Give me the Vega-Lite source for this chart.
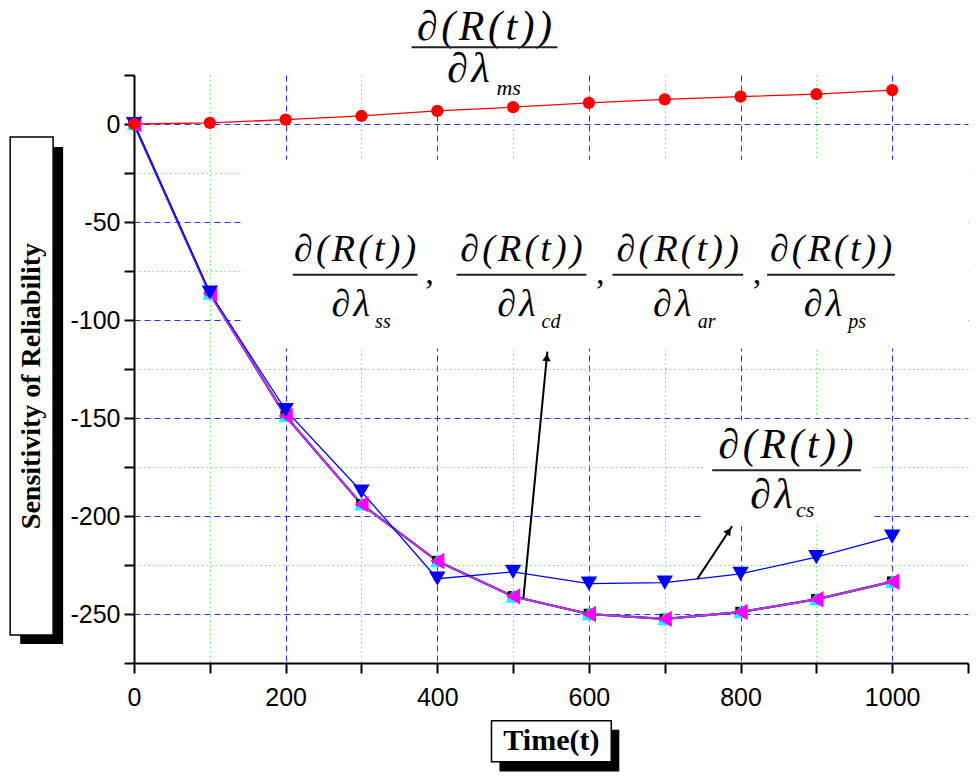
{
  "$schema": "https://vega.github.io/schema/vega-lite/v6.json",
  "width": 834,
  "height": 588,
  "autosize": {"type": "none"},
  "padding": {"left": 134, "top": 75, "right": 10, "bottom": 120},
  "background": "white",
  "datasets": {
    "sens": [
      {"s": "ss", "t": 0, "v": 0}, {"s": "ss", "t": 100, "v": -86.5}, {"s": "ss", "t": 200, "v": -149}, {"s": "ss", "t": 300, "v": -194}, {"s": "ss", "t": 400, "v": -223}, {"s": "ss", "t": 500, "v": -241}, {"s": "ss", "t": 600, "v": -250}, {"s": "ss", "t": 700, "v": -252.5}, {"s": "ss", "t": 800, "v": -249}, {"s": "ss", "t": 900, "v": -242.5}, {"s": "ss", "t": 1000, "v": -233.5},
      {"s": "cd", "t": 0, "v": 0}, {"s": "cd", "t": 100, "v": -86.5}, {"s": "cd", "t": 200, "v": -149}, {"s": "cd", "t": 300, "v": -194}, {"s": "cd", "t": 400, "v": -223}, {"s": "cd", "t": 500, "v": -241}, {"s": "cd", "t": 600, "v": -250}, {"s": "cd", "t": 700, "v": -252.5}, {"s": "cd", "t": 800, "v": -249}, {"s": "cd", "t": 900, "v": -242.5}, {"s": "cd", "t": 1000, "v": -233.5},
      {"s": "ar", "t": 0, "v": 0}, {"s": "ar", "t": 100, "v": -86.5}, {"s": "ar", "t": 200, "v": -149}, {"s": "ar", "t": 300, "v": -194}, {"s": "ar", "t": 400, "v": -223}, {"s": "ar", "t": 500, "v": -241}, {"s": "ar", "t": 600, "v": -250}, {"s": "ar", "t": 700, "v": -252.5}, {"s": "ar", "t": 800, "v": -249}, {"s": "ar", "t": 900, "v": -242.5}, {"s": "ar", "t": 1000, "v": -233.5},
      {"s": "ps", "t": 0, "v": 0}, {"s": "ps", "t": 100, "v": -86.5}, {"s": "ps", "t": 200, "v": -149}, {"s": "ps", "t": 300, "v": -194}, {"s": "ps", "t": 400, "v": -223}, {"s": "ps", "t": 500, "v": -241}, {"s": "ps", "t": 600, "v": -250}, {"s": "ps", "t": 700, "v": -252.5}, {"s": "ps", "t": 800, "v": -249}, {"s": "ps", "t": 900, "v": -242.5}, {"s": "ps", "t": 1000, "v": -233.5},
      {"s": "cs", "t": 0, "v": 0}, {"s": "cs", "t": 100, "v": -86}, {"s": "cs", "t": 200, "v": -146}, {"s": "cs", "t": 300, "v": -187.5}, {"s": "cs", "t": 400, "v": -232}, {"s": "cs", "t": 500, "v": -228.5}, {"s": "cs", "t": 600, "v": -234.5}, {"s": "cs", "t": 700, "v": -234}, {"s": "cs", "t": 800, "v": -229.5}, {"s": "cs", "t": 900, "v": -221}, {"s": "cs", "t": 1000, "v": -210.5},
      {"s": "ms", "t": 0, "v": 0}, {"s": "ms", "t": 100, "v": 0.6}, {"s": "ms", "t": 200, "v": 2.2}, {"s": "ms", "t": 300, "v": 4.1}, {"s": "ms", "t": 400, "v": 6.7}, {"s": "ms", "t": 500, "v": 8.6}, {"s": "ms", "t": 600, "v": 10.8}, {"s": "ms", "t": 700, "v": 12.6}, {"s": "ms", "t": 800, "v": 14}, {"s": "ms", "t": 900, "v": 15.2}, {"s": "ms", "t": 1000, "v": 17.3}
    ]
  },
  "config": {
    "view": {"stroke": null},
    "axis": {
      "domainColor": "black",
      "domainWidth": 2,
      "tickColor": "black",
      "tickWidth": 2,
      "tickSize": 10,
      "labelFont": "Liberation Sans",
      "labelFontSize": 25,
      "labelColor": "black",
      "gridWidth": 1
    },
    "text": {"font": "Liberation Serif", "color": "black"}
  },
  "layer": [
    {
      "data": {"values": [{}]},
      "mark": {"type": "rect", "fill": "white"},
      "encoding": {
        "x": {
          "datum": 143.6, "type": "quantitative",
          "scale": {"domain": [0, 1100], "nice": false, "zero": false},
          "axis": {
            "title": null,
            "values": [0, 100, 200, 300, 400, 500, 600, 700, 800, 900, 1000, 1100],
            "labelExpr": "datum.value % 200 === 0 && datum.value <= 1000 ? '' + datum.value : ''",
            "labelAngle": 0,
            "labelPadding": 12,
            "labelFlush": false,
            "labelOverlap": false,
            "grid": true,
            "gridColor": {"condition": {"test": "datum.value % 200 === 0", "value": "#2a2aff"}, "value": "#66ee66"},
            "gridDash": {"condition": {"test": "datum.value % 200 === 0", "value": [6, 4]}, "value": [1.5, 3]},
            "gridOpacity": {"condition": {"test": "datum.value >= 1100", "value": 0}, "value": 1}
          }
        },
        "x2": {"datum": 1100},
        "y": {
          "datum": -18.3, "type": "quantitative",
          "scale": {"domain": [-275, 25], "nice": false, "zero": false},
          "axis": {
            "title": null,
            "values": [-275, -250, -225, -200, -175, -150, -125, -100, -75, -50, -25, 0, 25],
            "labelExpr": "datum.value % 50 === 0 ? '' + datum.value : ''",
            "labelPadding": 4,
            "labelOverlap": false,
            "grid": true,
            "gridColor": {"condition": {"test": "datum.value % 50 === 0", "value": "#2a2aff"}, "value": "#66ee66"},
            "gridDash": {"condition": {"test": "datum.value % 50 === 0", "value": [6, 4]}, "value": [1.5, 3]},
            "gridOpacity": {"condition": {"test": "datum.value >= 25 || datum.value <= -275", "value": 0}, "value": 1}
          }
        },
        "y2": {"datum": -114.6}
      }
    },
    {
      "data": {"values": [{}]},
      "mark": {"type": "rect", "fill": "white"},
      "encoding": {
        "x": {"datum": 356.9, "type": "quantitative"},
        "x2": {"datum": 567.6},
        "y": {"datum": 11.2, "type": "quantitative"},
        "y2": {"datum": 25}
      }
    },
    {
      "data": {"values": [{}]},
      "mark": {"type": "rect", "fill": "white"},
      "encoding": {
        "x": {"datum": 752, "type": "quantitative"},
        "x2": {"datum": 973.3},
        "y": {"datum": -151.2, "type": "quantitative"},
        "y2": {"datum": -205.2}
      }
    },
    {
      "data": {"name": "sens"},
      "transform": [{"filter": "datum.s === 'ss'"}],
      "mark": {"type": "line", "color": "black", "strokeWidth": 2},
      "encoding": {"x": {"field": "t", "type": "quantitative"}, "y": {"field": "v", "type": "quantitative"}}
    },
    {
      "data": {"name": "sens"},
      "transform": [{"filter": "datum.s === 'cd'"}],
      "mark": {"type": "line", "color": "#00cc00", "strokeWidth": 2},
      "encoding": {"x": {"field": "t", "type": "quantitative"}, "y": {"field": "v", "type": "quantitative"}}
    },
    {
      "data": {"name": "sens"},
      "transform": [{"filter": "datum.s === 'ar'"}],
      "mark": {"type": "line", "color": "#3333ff", "strokeWidth": 2.2},
      "encoding": {"x": {"field": "t", "type": "quantitative"}, "y": {"field": "v", "type": "quantitative"}}
    },
    {
      "data": {"name": "sens"},
      "transform": [{"filter": "datum.s === 'ps'"}],
      "mark": {"type": "line", "color": "#ee22ee", "strokeWidth": 1.5},
      "encoding": {"x": {"field": "t", "type": "quantitative"}, "y": {"field": "v", "type": "quantitative"}}
    },
    {
      "data": {"name": "sens"},
      "transform": [{"filter": "datum.s === 'cs'"}],
      "mark": {"type": "line", "color": "#0000ff", "strokeWidth": 1.3},
      "encoding": {"x": {"field": "t", "type": "quantitative"}, "y": {"field": "v", "type": "quantitative"}}
    },
    {
      "data": {"name": "sens"},
      "transform": [{"filter": "datum.s === 'ms'"}],
      "mark": {"type": "line", "color": "#ff0000", "strokeWidth": 1.3},
      "encoding": {"x": {"field": "t", "type": "quantitative"}, "y": {"field": "v", "type": "quantitative"}}
    },
    {
      "data": {"name": "sens"},
      "mark": {"type": "point", "filled": true, "opacity": 1},
      "encoding": {
        "x": {"field": "t", "type": "quantitative"},
        "y": {"field": "v", "type": "quantitative"},
        "color": {
          "field": "s", "type": "nominal", "legend": null,
          "scale": {"domain": ["ss", "cd", "ar", "ps", "cs", "ms"], "range": ["#000000", "#00cc00", "#00ffff", "#ff00ff", "#0000ff", "#ff0000"]}
        },
        "shape": {
          "field": "s", "type": "nominal", "legend": null,
          "scale": {"domain": ["ss", "cd", "ar", "ps", "cs", "ms"], "range": ["square", "diamond", "triangle-up", "triangle-left", "triangle-down", "circle"]}
        },
        "size": {
          "field": "s", "type": "ordinal", "legend": null,
          "scale": {"type": "ordinal", "domain": ["ss", "cd", "ar", "ps", "cs", "ms"], "range": [110, 140, 210, 270, 270, 150]}
        }
      }
    },
    {
      "data": {"values": [{}]},
      "mark": {"type": "rule", "color": "black", "strokeWidth": 2},
      "encoding": {
        "x": {"datum": 513.6, "type": "quantitative"}, "y": {"datum": -241.9, "type": "quantitative"},
        "x2": {"datum": 545.2}, "y2": {"datum": -116.1}
      }
    },
    {
      "data": {"values": [{}]},
      "mark": {"type": "point", "shape": "triangle-up", "angle": 5.5, "filled": true, "color": "black", "opacity": 1, "size": 70},
      "encoding": {"x": {"datum": 544.5, "type": "quantitative"}, "y": {"datum": -119.1, "type": "quantitative"}}
    },
    {
      "data": {"values": [{}]},
      "mark": {"type": "rule", "color": "black", "strokeWidth": 2},
      "encoding": {
        "x": {"datum": 742.8, "type": "quantitative"}, "y": {"datum": -232.2, "type": "quantitative"},
        "x2": {"datum": 788.9}, "y2": {"datum": -205.2}
      }
    },
    {
      "data": {"values": [{}]},
      "mark": {"type": "point", "shape": "triangle-up", "angle": 33.4, "filled": true, "color": "black", "opacity": 1, "size": 70},
      "encoding": {"x": {"datum": 784.5, "type": "quantitative"}, "y": {"datum": -207.7, "type": "quantitative"}}
    },
    {
      "data": {"values": [{}]},
      "mark": {"type": "text", "text": "\u2202\u200a(\u200aR\u200a(\u200at\u200a)\u200a)", "fontSize": 42, "fontStyle": "italic", "align": "center", "baseline": "middle"},
      "encoding": {"x": {"datum": 462.3, "type": "quantitative"}, "y": {"datum": 49.3, "type": "quantitative"}}
    },
    {
      "data": {"values": [{}]},
      "mark": {"type": "rule", "color": "#222222", "strokeWidth": 2},
      "encoding": {"x": {"datum": 366.1, "type": "quantitative"}, "x2": {"datum": 558.4}, "y": {"datum": 39.2, "type": "quantitative"}}
    },
    {
      "data": {"values": [{}]},
      "mark": {"type": "text", "text": "\u2202\u200a\u03bb", "fontSize": 42, "fontStyle": "italic", "align": "center", "baseline": "middle"},
      "encoding": {"x": {"datum": 441.2, "type": "quantitative"}, "y": {"datum": 28, "type": "quantitative"}}
    },
    {
      "data": {"values": [{}]},
      "mark": {"type": "text", "text": "ms", "fontSize": 22, "fontStyle": "italic", "align": "left", "baseline": "middle"},
      "encoding": {"x": {"datum": 478.1, "type": "quantitative"}, "y": {"datum": 18.3, "type": "quantitative"}}
    },
    {
      "data": {"values": [{}]},
      "mark": {"type": "text", "text": "\u2202\u200a(\u200aR\u200a(\u200at\u200a)\u200a)", "fontSize": 38, "fontStyle": "italic", "align": "center", "baseline": "middle"},
      "encoding": {"x": {"datum": 291.7, "type": "quantitative"}, "y": {"datum": -64.2, "type": "quantitative"}}
    },
    {
      "data": {"values": [{}]},
      "mark": {"type": "rule", "color": "#222222", "strokeWidth": 2},
      "encoding": {"x": {"datum": 209.4, "type": "quantitative"}, "x2": {"datum": 374}, "y": {"datum": -76.9, "type": "quantitative"}}
    },
    {
      "data": {"values": [{}]},
      "mark": {"type": "text", "text": "\u2202\u200a\u03bb", "fontSize": 38, "fontStyle": "italic", "align": "center", "baseline": "middle"},
      "encoding": {"x": {"datum": 285.8, "type": "quantitative"}, "y": {"datum": -92.2, "type": "quantitative"}}
    },
    {
      "data": {"values": [{}]},
      "mark": {"type": "text", "text": "ss", "fontSize": 20, "fontStyle": "italic", "align": "left", "baseline": "middle"},
      "encoding": {"x": {"datum": 318, "type": "quantitative"}, "y": {"datum": -100.8, "type": "quantitative"}}
    },
    {
      "data": {"values": [{}]},
      "mark": {"type": "text", "text": "\u2202\u200a(\u200aR\u200a(\u200at\u200a)\u200a)", "fontSize": 38, "fontStyle": "italic", "align": "center", "baseline": "middle"},
      "encoding": {"x": {"datum": 511, "type": "quantitative"}, "y": {"datum": -64.2, "type": "quantitative"}}
    },
    {
      "data": {"values": [{}]},
      "mark": {"type": "rule", "color": "#222222", "strokeWidth": 2},
      "encoding": {"x": {"datum": 425.4, "type": "quantitative"}, "x2": {"datum": 596.6}, "y": {"datum": -76.9, "type": "quantitative"}}
    },
    {
      "data": {"values": [{}]},
      "mark": {"type": "text", "text": "\u2202\u200a\u03bb", "fontSize": 38, "fontStyle": "italic", "align": "center", "baseline": "middle"},
      "encoding": {"x": {"datum": 504.4, "type": "quantitative"}, "y": {"datum": -92.2, "type": "quantitative"}}
    },
    {
      "data": {"values": [{}]},
      "mark": {"type": "text", "text": "cd", "fontSize": 20, "fontStyle": "italic", "align": "left", "baseline": "middle"},
      "encoding": {"x": {"datum": 537.5, "type": "quantitative"}, "y": {"datum": -100.8, "type": "quantitative"}}
    },
    {
      "data": {"values": [{}]},
      "mark": {"type": "text", "text": "\u2202\u200a(\u200aR\u200a(\u200at\u200a)\u200a)", "fontSize": 38, "fontStyle": "italic", "align": "center", "baseline": "middle"},
      "encoding": {"x": {"datum": 717.1, "type": "quantitative"}, "y": {"datum": -64.2, "type": "quantitative"}}
    },
    {
      "data": {"values": [{}]},
      "mark": {"type": "rule", "color": "#222222", "strokeWidth": 2},
      "encoding": {"x": {"datum": 631, "type": "quantitative"}, "x2": {"datum": 803.4}, "y": {"datum": -76.9, "type": "quantitative"}}
    },
    {
      "data": {"values": [{}]},
      "mark": {"type": "text", "text": "\u2202\u200a\u03bb", "fontSize": 38, "fontStyle": "italic", "align": "center", "baseline": "middle"},
      "encoding": {"x": {"datum": 709.9, "type": "quantitative"}, "y": {"datum": -92.2, "type": "quantitative"}}
    },
    {
      "data": {"values": [{}]},
      "mark": {"type": "text", "text": "ar", "fontSize": 20, "fontStyle": "italic", "align": "left", "baseline": "middle"},
      "encoding": {"x": {"datum": 743.5, "type": "quantitative"}, "y": {"datum": -100.8, "type": "quantitative"}}
    },
    {
      "data": {"values": [{}]},
      "mark": {"type": "text", "text": "\u2202\u200a(\u200aR\u200a(\u200at\u200a)\u200a)", "fontSize": 38, "fontStyle": "italic", "align": "center", "baseline": "middle"},
      "encoding": {"x": {"datum": 919.3, "type": "quantitative"}, "y": {"datum": -64.2, "type": "quantitative"}}
    },
    {
      "data": {"values": [{}]},
      "mark": {"type": "rule", "color": "#222222", "strokeWidth": 2},
      "encoding": {"x": {"datum": 835, "type": "quantitative"}, "x2": {"datum": 1003.6}, "y": {"datum": -76.9, "type": "quantitative"}}
    },
    {
      "data": {"values": [{}]},
      "mark": {"type": "text", "text": "\u2202\u200a\u03bb", "fontSize": 38, "fontStyle": "italic", "align": "center", "baseline": "middle"},
      "encoding": {"x": {"datum": 908.7, "type": "quantitative"}, "y": {"datum": -92.2, "type": "quantitative"}}
    },
    {
      "data": {"values": [{}]},
      "mark": {"type": "text", "text": "ps", "fontSize": 20, "fontStyle": "italic", "align": "left", "baseline": "middle"},
      "encoding": {"x": {"datum": 942, "type": "quantitative"}, "y": {"datum": -100.8, "type": "quantitative"}}
    },
    {
      "data": {"values": [{}]},
      "mark": {"type": "text", "text": ",", "fontSize": 34, "align": "center", "baseline": "alphabetic"},
      "encoding": {"x": {"datum": 389.8, "type": "quantitative"}, "y": {"datum": -81.5, "type": "quantitative"}}
    },
    {
      "data": {"values": [{}]},
      "mark": {"type": "text", "text": ",", "fontSize": 34, "align": "center", "baseline": "alphabetic"},
      "encoding": {"x": {"datum": 615, "type": "quantitative"}, "y": {"datum": -81.5, "type": "quantitative"}}
    },
    {
      "data": {"values": [{}]},
      "mark": {"type": "text", "text": ",", "fontSize": 34, "align": "center", "baseline": "alphabetic"},
      "encoding": {"x": {"datum": 821.8, "type": "quantitative"}, "y": {"datum": -81.5, "type": "quantitative"}}
    },
    {
      "data": {"values": [{}]},
      "mark": {"type": "text", "text": "\u2202\u200a(\u200aR\u200a(\u200at\u200a)\u200a)", "fontSize": 42, "fontStyle": "italic", "align": "center", "baseline": "middle"},
      "encoding": {"x": {"datum": 860, "type": "quantitative"}, "y": {"datum": -164, "type": "quantitative"}}
    },
    {
      "data": {"values": [{}]},
      "mark": {"type": "rule", "color": "#222222", "strokeWidth": 2},
      "encoding": {"x": {"datum": 762.6, "type": "quantitative"}, "x2": {"datum": 958.8}, "y": {"datum": -176.7, "type": "quantitative"}}
    },
    {
      "data": {"values": [{}]},
      "mark": {"type": "text", "text": "\u2202\u200a\u03bb", "fontSize": 42, "fontStyle": "italic", "align": "center", "baseline": "middle"},
      "encoding": {"x": {"datum": 840.9, "type": "quantitative"}, "y": {"datum": -189.2, "type": "quantitative"}}
    },
    {
      "data": {"values": [{}]},
      "mark": {"type": "text", "text": "cs", "fontSize": 22, "fontStyle": "italic", "align": "left", "baseline": "middle"},
      "encoding": {"x": {"datum": 873.2, "type": "quantitative"}, "y": {"datum": -197, "type": "quantitative"}}
    },
    {
      "data": {"values": [{}]},
      "mark": {"type": "rect", "fill": "black"},
      "encoding": {
        "x": {"datum": -150.1, "type": "quantitative"}, "x2": {"datum": -93.5},
        "y": {"datum": -11.7, "type": "quantitative"}, "y2": {"datum": -265.3}
      }
    },
    {
      "data": {"values": [{}]},
      "mark": {"type": "rect", "fill": "white", "stroke": "black", "strokeWidth": 1.5},
      "encoding": {
        "x": {"datum": -163.3, "type": "quantitative"}, "x2": {"datum": -106.7},
        "y": {"datum": -6.6, "type": "quantitative"}, "y2": {"datum": -260.7}
      }
    },
    {
      "data": {"values": [{}]},
      "mark": {"type": "text", "text": "Sensitivity of Reliability", "fontSize": 28, "fontWeight": "bold", "angle": 270, "align": "center", "baseline": "middle"},
      "encoding": {"x": {"datum": -135, "type": "quantitative"}, "y": {"datum": -133.7, "type": "quantitative"}}
    },
    {
      "data": {"values": [{}]},
      "mark": {"type": "rect", "fill": "black"},
      "encoding": {
        "x": {"datum": 482, "type": "quantitative"}, "x2": {"datum": 640.1},
        "y": {"datum": -309.1, "type": "quantitative"}, "y2": {"datum": -330.4}
      }
    },
    {
      "data": {"values": [{}]},
      "mark": {"type": "rect", "fill": "white", "stroke": "black", "strokeWidth": 1.5},
      "encoding": {
        "x": {"datum": 471.5, "type": "quantitative"}, "x2": {"datum": 629.5},
        "y": {"datum": -304.5, "type": "quantitative"}, "y2": {"datum": -325.4}
      }
    },
    {
      "data": {"values": [{}]},
      "mark": {"type": "text", "text": "Time(t)", "fontSize": 30, "fontWeight": "bold", "align": "center", "baseline": "middle"},
      "encoding": {"x": {"datum": 550.5, "type": "quantitative"}, "y": {"datum": -314.9, "type": "quantitative"}}
    }
  ]
}
